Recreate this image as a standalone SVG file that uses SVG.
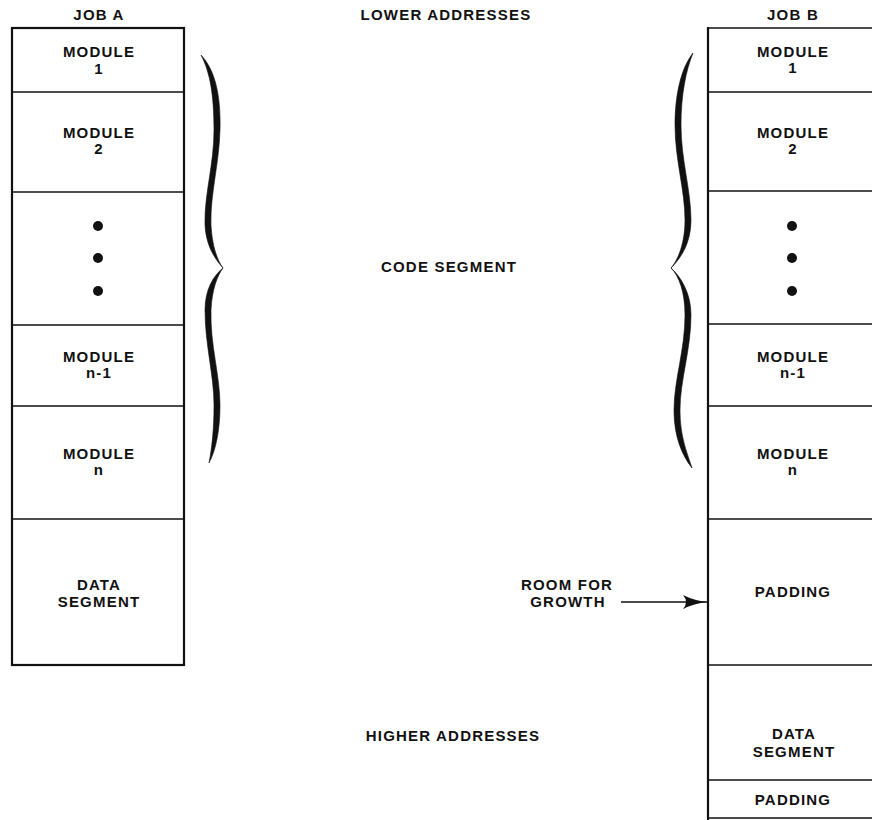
<svg xmlns="http://www.w3.org/2000/svg" width="872" height="820" viewBox="0 0 872 820">
<style>
text{font-family:"Liberation Sans",Arial,Helvetica,sans-serif;font-weight:bold;font-size:15px;letter-spacing:1.2px;fill:#111;text-anchor:middle}
.cell{fill:none;stroke:#111;stroke-width:1.5}
.border{fill:none;stroke:#111;stroke-width:2.2}
.brace{fill:#111;stroke:#111;stroke-width:0.6}
.dot{fill:#111}
</style>
<defs>
<marker id="arr" markerWidth="26" markerHeight="16" refX="24" refY="8" orient="auto" markerUnits="userSpaceOnUse">
<path d="M0,1 Q11,6.5 24,8 Q11,9.5 0,15 Q6,8 0,1 Z" fill="#111"/>
</marker>
</defs>
<rect width="872" height="820" fill="#fff"/>

<g id="labels">
<text x="99" y="20">JOB A</text>
<text x="793" y="20">JOB B</text>
<text x="446" y="20">LOWER ADDRESSES</text>
<text x="449" y="272">CODE SEGMENT</text>
<text x="453" y="741">HIGHER ADDRESSES</text>
</g>

<g id="jobA">
<rect class="border" x="12" y="28" width="172" height="637"/>
<g id="a-module1"><text x="99" y="57">MODULE</text><text x="99" y="74">1</text></g>
<line class="cell" x1="12" y1="92" x2="184" y2="92"/>
<g id="a-module2"><text x="99" y="138">MODULE</text><text x="99" y="154">2</text></g>
<line class="cell" x1="12" y1="192" x2="184" y2="192"/>
<g id="a-dots"><circle class="dot" cx="98" cy="226" r="5"/><circle class="dot" cx="98" cy="258" r="5"/><circle class="dot" cx="98" cy="291" r="5"/></g>
<line class="cell" x1="12" y1="325" x2="184" y2="325"/>
<g id="a-modulen1"><text x="99" y="362">MODULE</text><text x="99" y="378">n-1</text></g>
<line class="cell" x1="12" y1="406" x2="184" y2="406"/>
<g id="a-modulen"><text x="99" y="459">MODULE</text><text x="99" y="475">n</text></g>
<line class="cell" x1="12" y1="519" x2="184" y2="519"/>
<g id="a-data"><text x="99" y="590">DATA</text><text x="99" y="607">SEGMENT</text></g>
</g>

<g id="jobB">
<line class="border" x1="708" y1="27" x2="708" y2="820"/>
<line class="cell" x1="708" y1="28" x2="872" y2="28"/>
<g id="b-module1"><text x="793" y="57">MODULE</text><text x="793" y="73">1</text></g>
<line class="cell" x1="708" y1="92" x2="872" y2="92"/>
<g id="b-module2"><text x="793" y="138">MODULE</text><text x="793" y="154">2</text></g>
<line class="cell" x1="708" y1="191" x2="872" y2="191"/>
<g id="b-dots"><circle class="dot" cx="792" cy="226" r="5"/><circle class="dot" cx="792" cy="258" r="5"/><circle class="dot" cx="792" cy="291" r="5"/></g>
<line class="cell" x1="708" y1="324" x2="872" y2="324"/>
<g id="b-modulen1"><text x="793" y="362">MODULE</text><text x="793" y="378">n-1</text></g>
<line class="cell" x1="708" y1="406" x2="872" y2="406"/>
<g id="b-modulen"><text x="793" y="459">MODULE</text><text x="793" y="475">n</text></g>
<line class="cell" x1="708" y1="519" x2="872" y2="519"/>
<g id="b-padding"><text x="793" y="597">PADDING</text></g>
<line class="cell" x1="708" y1="665" x2="872" y2="665"/>
<g id="b-data"><text x="794" y="739">DATA</text><text x="794" y="757">SEGMENT</text></g>
<line class="cell" x1="708" y1="780" x2="872" y2="780"/>
<g id="b-padding2"><text x="793" y="805">PADDING</text></g>
<line class="cell" x1="708" y1="818" x2="872" y2="818"/>
</g>

<g id="braceA">
<path class="brace" d="M201,55 C215,70 221,95 220,130 C219,165 210,195 211,225 C212,245 217,260 223,268 C214,258 206,245 205,225 C204,195 214,165 214,130 C214,95 210,72 201,55 Z"/>
<path class="brace" d="M223,268 C217,276 212,290 211,310 C210,345 220,375 220,405 C220,430 216,450 209,463 C212,448 214,428 214,405 C214,375 205,345 205,310 C205,290 213,276 223,268 Z"/>
</g>
<g id="braceB">
<path class="brace" d="M693,53 C681,68 675,95 675,125 C675,160 685,190 685,220 C685,243 678,260 671,268 C681,258 691,243 691,220 C691,190 681,160 681,125 C681,95 686,70 693,53 Z"/>
<path class="brace" d="M671,268 C679,276 685,292 685,315 C685,350 674,380 674,410 C674,437 682,455 692,468 C687,452 680,437 680,410 C680,380 691,350 691,315 C691,292 680,276 671,268 Z"/>
</g>

<g id="growth">
<text x="567" y="590">ROOM FOR</text>
<text x="568" y="607">GROWTH</text>
</g>

<g id="connectors">
<line x1="621" y1="602" x2="707" y2="602" stroke="#111" stroke-width="1.5" marker-end="url(#arr)"/>
</g>
</svg>
